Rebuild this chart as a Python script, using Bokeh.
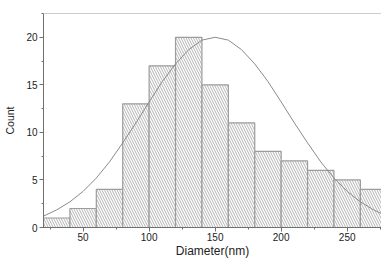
from bokeh.plotting import figure
from bokeh.models import ColumnDataSource, SingleIntervalTicker, Range1d, Span
from bokeh.embed import file_html
from bokeh.resources import INLINE

# Histogram bins (nm) and counts
bin_left = [20, 40, 60, 80, 100, 120, 140, 160, 180, 200, 220, 240, 260]
bin_right = [40, 60, 80, 100, 120, 140, 160, 180, 200, 220, 240, 260, 280]
counts = [1, 2, 4, 13, 17, 20, 15, 11, 8, 7, 6, 5, 4]

# Fitted curve
curve_x = [20, 30, 40, 50, 60, 70, 80, 90, 100, 110, 120, 130, 140, 150,
           160, 170, 180, 190, 200, 210, 220, 230, 240, 250, 260, 270, 280]
curve_y = [1.2, 1.85, 2.7, 3.8, 5.2, 6.9, 8.9, 11.0, 13.2, 15.35, 17.2, 18.7, 19.7, 20.0,
           19.7, 18.7, 17.2, 15.35, 13.2, 11.0, 8.9, 6.9, 5.2, 3.8, 2.7, 1.85, 1.2]

x_ticks_step = 50
y_ticks_step = 5
y_top = 22.5

GRAY = "#9c9c9c"
AXIS = "#707070"
FONT = "Liberation Sans"

p = figure(width=381, height=260, output_backend="svg", toolbar_location=None,
           x_range=Range1d(20, 276), y_range=Range1d(0, y_top),
           min_border_left=43, min_border_right=0, min_border_top=13, min_border_bottom=30,
           x_axis_label="Diameter(nm)", y_axis_label="Count")
p.outline_line_color = None
p.grid.visible = False
p.background_fill_color = "white"
p.border_fill_color = "white"

src = ColumnDataSource(dict(left=bin_left, right=bin_right, top=counts, bottom=[0]*len(counts)))
p.quad(left="left", right="right", top="top", bottom="bottom", source=src,
       fill_color="white", line_color=GRAY, line_width=1.2,
       hatch_pattern="left_diagonal_line", hatch_color="#b4b4b4", hatch_scale=5, hatch_weight=1)

p.line(curve_x, curve_y, line_color="#8a8a8a", line_width=1)

p.xaxis.ticker = SingleIntervalTicker(interval=x_ticks_step, num_minor_ticks=2)
p.yaxis.ticker = SingleIntervalTicker(interval=y_ticks_step, num_minor_ticks=2)

for ax in (p.xaxis[0], p.yaxis[0]):
    ax.axis_line_color = AXIS
    ax.major_tick_line_color = AXIS
    ax.minor_tick_line_color = AXIS
    ax.major_tick_out = 4
    ax.major_tick_in = 0
    ax.minor_tick_out = 2
    ax.minor_tick_in = 0
    ax.major_label_text_font = FONT
    ax.major_label_text_font_size = "10px"
    ax.major_label_text_color = "#222222"
    ax.axis_label_text_font = FONT
    ax.axis_label_text_font_style = "normal"
    ax.axis_label_text_color = "#222222"

p.xaxis.axis_label_text_font_size = "12px"
p.yaxis.axis_label_text_font_size = "10.5px"
p.xaxis.major_label_standoff = 1
p.xaxis.axis_label_standoff = 0
p.yaxis.major_label_standoff = 2
p.yaxis.axis_label_standoff = 7

p.add_layout(Span(location=y_top, dimension="width", line_color="#9a9a9a", line_width=1))

open("out.html", "w").write(file_html(p, INLINE))
